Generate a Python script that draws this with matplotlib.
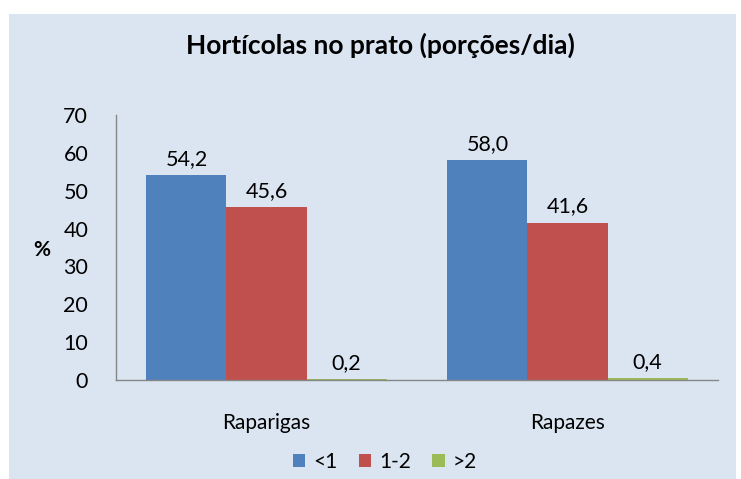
import matplotlib.pyplot as plt
from matplotlib.patches import Rectangle
import numpy as np

plt.rcParams['font.family'] = ['Lato', 'DejaVu Sans']

categories = ['Raparigas', 'Rapazes']
series = ['<1', '1-2', '>2']
values = {
    '<1': [54.2, 58.0],
    '1-2': [45.6, 41.6],
    '>2': [0.2, 0.4],
}
colors = ['#4F81BD', '#C0504D', '#9BBB59']
bg = '#DBE5F1'

fig = plt.figure(figsize=(7.41, 4.79), dpi=100)
fig.patch.set_facecolor('white')
fig.patches.append(Rectangle((9/741, 0), 1 - 14/741, 1 - 14/479, transform=fig.transFigure,
                             facecolor=bg, edgecolor='none', zorder=-10))

ax = fig.add_axes([116/741, 1 - 380/479, 602/741, 265/479])
ax.set_facecolor(bg)

x = np.arange(len(categories))
w = 0.266
for i, s in enumerate(series):
    pos = x + (i - 1) * w
    bars = ax.bar(pos, values[s], w, color=colors[i], label=s)
    for b, v in zip(bars, values[s]):
        ax.text(b.get_x() + b.get_width() / 2, v + 1.6, f'{v:.1f}'.replace('.', ','),
                ha='center', va='bottom', fontsize=15.5)

ax.set_xlim(-0.5, 1.5)
ax.set_ylim(0, 70)
ax.set_yticks(range(0, 71, 10))
ax.set_xticks(x)
ax.set_xticklabels(categories, fontsize=15)
ax.tick_params(axis='y', length=0, labelsize=15.5, pad=20)
ax.tick_params(axis='x', length=0, pad=24)
for side in ['top', 'right']:
    ax.spines[side].set_visible(False)
for side in ['left', 'bottom']:
    ax.spines[side].set_color('#868686')
    ax.spines[side].set_linewidth(1)

fig.text(42/741, 1 - 250/479, '%', fontsize=15, fontweight='bold', ha='center', va='center')
fig.text(380/741, 1 - 45/479, 'Hortícolas no prato (porções/dia)', fontsize=19,
         fontweight='bold', ha='center', va='center')

leg = fig.legend(loc='center', bbox_to_anchor=(385/741, 1 - 462/479), ncol=3, frameon=False,
                 fontsize=15, handlelength=0.6, handleheight=0.6, handletextpad=0.4,
                 columnspacing=1.0)

fig.savefig('out.png', dpi=100, facecolor=fig.get_facecolor())
